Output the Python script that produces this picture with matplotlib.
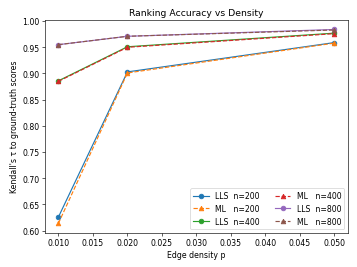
import numpy as np
import matplotlib
matplotlib.use('Agg')
import matplotlib.pyplot as plt

p = [0.01, 0.02, 0.05]
lls_200 = [0.626, 0.903, 0.959]
ml_200 = [0.614, 0.901, 0.958]
lls_400 = [0.886, 0.951, 0.977]
ml_400 = [0.885, 0.950, 0.976]
lls_800 = [0.955, 0.971, 0.984]
ml_800 = [0.955, 0.971, 0.983]

fig, ax = plt.subplots(figsize=(6.4, 4.8), dpi=55.8)
fig.subplots_adjust(left=0.125, right=0.975, top=0.923, bottom=0.127)

ax.plot(p, lls_200, 'o-', label='LLS  n=200')
ax.plot(p, ml_200, '^--', label='ML   n=200')
ax.plot(p, lls_400, 'o-', label='LLS  n=400')
ax.plot(p, ml_400, '^--', label='ML   n=400')
ax.plot(p, lls_800, 'o-', label='LLS  n=800')
ax.plot(p, ml_800, '^--', label='ML   n=800')

ax.set_xlabel('Edge density p')
ax.set_ylabel("Kendall's \u03c4 to ground-truth scores")
ax.set_title('Ranking Accuracy vs Density')
ax.legend(loc='lower right', ncol=2)

fig.savefig('out.png')
